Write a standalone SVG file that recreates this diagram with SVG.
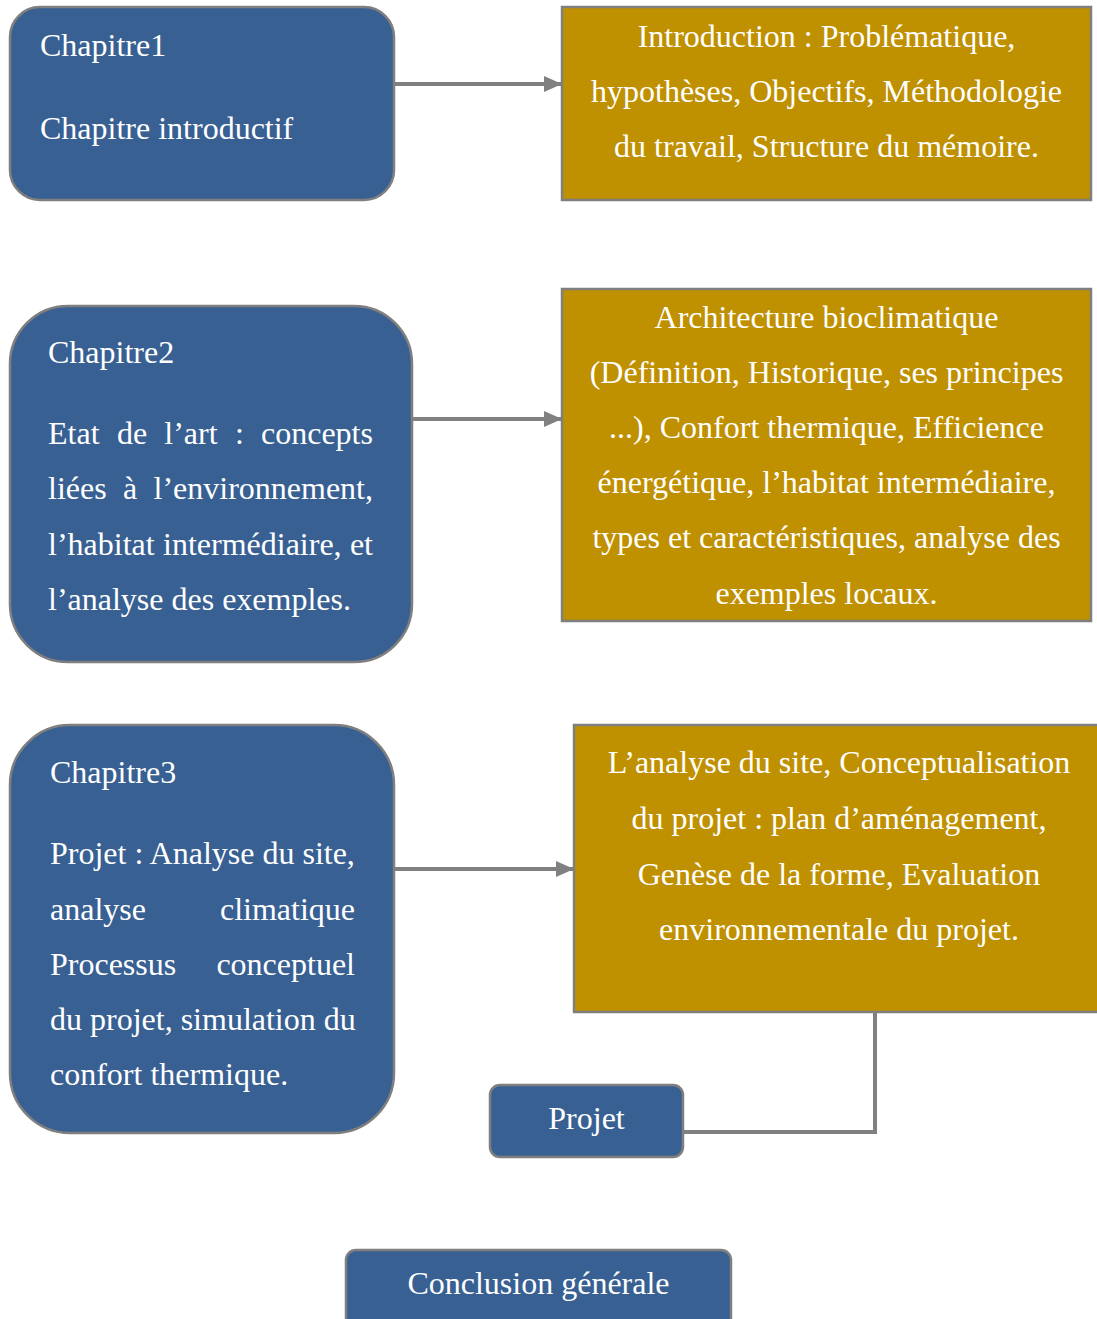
<svg xmlns="http://www.w3.org/2000/svg" width="1097" height="1319" viewBox="0 0 1097 1319">
<style>
.blue{fill:#386092;stroke:#7f7f7f;stroke-width:2.5}
.gold{fill:#bf9000;stroke:#7f7f7f;stroke-width:2.5}
text{font-family:"Liberation Serif","Times New Roman",serif;font-size:32px;fill:#ffffff}
.c{text-anchor:middle}
.e{text-anchor:end}
.conn{fill:none;stroke:#808080;stroke-width:4}
</style>
<defs>
<marker id="arr" markerUnits="userSpaceOnUse" markerWidth="18" markerHeight="16" refX="18" refY="8" orient="auto">
<path d="M0,0 L18,8 L0,16 Z" fill="#808080"/>
</marker>
</defs>
<rect width="1097" height="1319" fill="#ffffff"/>
<g id="connectors">
<line class="conn" x1="395" y1="84" x2="562" y2="84" marker-end="url(#arr)"/>
<line class="conn" x1="412" y1="419" x2="562" y2="419" marker-end="url(#arr)"/>
<line class="conn" x1="394" y1="869" x2="574" y2="869" marker-end="url(#arr)"/>
<polyline class="conn" points="875,1012 875,1132 683,1132"/>
</g>
<g id="chapitre1">
<rect class="blue" x="10" y="7" width="384" height="193" rx="30"/>
<text x="40" y="56">Chapitre1</text>
<text x="40" y="139">Chapitre introductif</text>
</g>
<g id="intro">
<rect class="gold" x="562" y="7" width="529" height="193"/>
<text class="c" x="826.5" y="47">Introduction : Problématique,</text>
<text class="c" x="826.5" y="102">hypothèses, Objectifs, Méthodologie</text>
<text class="c" x="826.5" y="157">du travail, Structure du mémoire.</text>
</g>
<g id="chapitre2">
<rect class="blue" x="10" y="306" width="402" height="356" rx="58"/>
<text x="48" y="363">Chapitre2</text>
<text y="444"><tspan x="48">Etat</tspan><tspan x="117">de</tspan><tspan x="164.3">l’art</tspan><tspan x="234.9">:</tspan><tspan x="261">concepts</tspan></text>
<text y="499"><tspan x="48">liées</tspan><tspan x="123">à</tspan><tspan x="153.5">l’environnement,</tspan></text>
<text y="555"><tspan x="48">l’habitat</tspan><tspan x="163">intermédiaire,</tspan></text>
<text class="e" x="373" y="555">et</text>
<text x="48" y="610">l’analyse des exemples.</text>
</g>
<g id="archi">
<rect class="gold" x="562" y="289" width="529" height="332"/>
<text class="c" x="826.5" y="328">Architecture bioclimatique</text>
<text class="c" x="826.5" y="383">(Définition, Historique, ses principes</text>
<text class="c" x="826.5" y="438">...), Confort thermique, Efficience</text>
<text class="c" x="826.5" y="493">énergétique, l’habitat intermédiaire,</text>
<text class="c" x="826.5" y="548">types et caractéristiques, analyse des</text>
<text class="c" x="826.5" y="604">exemples locaux.</text>
</g>
<g id="chapitre3">
<rect class="blue" x="10" y="725" width="384" height="408" rx="60"/>
<text x="50" y="783">Chapitre3</text>
<text x="50" y="864">Projet : Analyse du site,</text>
<text x="50" y="920">analyse</text>
<text class="e" x="355" y="920">climatique</text>
<text x="50" y="975">Processus</text>
<text class="e" x="355" y="975">conceptuel</text>
<text x="50" y="1030">du projet, simulation du</text>
<text x="50" y="1085">confort thermique.</text>
</g>
<g id="analyse">
<rect class="gold" x="574" y="725" width="532" height="287"/>
<text class="c" x="839" y="773">L’analyse du site, Conceptualisation</text>
<text class="c" x="839" y="829">du projet : plan d’aménagement,</text>
<text class="c" x="839" y="885">Genèse de la forme, Evaluation</text>
<text class="c" x="839" y="940">environnementale du projet.</text>
</g>
<g id="projet">
<rect class="blue" x="490" y="1085" width="193" height="72" rx="10"/>
<text class="c" x="586.5" y="1129">Projet</text>
</g>
<g id="conclusion">
<rect class="blue" x="346" y="1250" width="385" height="85" rx="10"/>
<text class="c" x="538.5" y="1294">Conclusion générale</text>
</g>
</svg>
